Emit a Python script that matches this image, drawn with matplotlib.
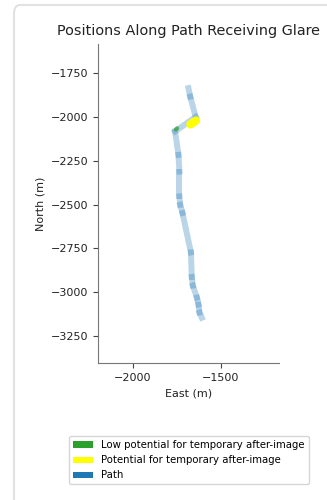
import matplotlib
matplotlib.use("Agg")
import matplotlib.pyplot as plt
from matplotlib.patches import Patch, FancyBboxPatch

# Path vertices (East, North) in metres
path_east = [-1683, -1673, -1642, -1759, -1740, -1734, -1734, -1730, -1717,
             -1669, -1664, -1658, -1635, -1626, -1620, -1607]
path_north = [-1835, -1883, -1999, -2082, -2216, -2311, -2453, -2501, -2548,
              -2773, -2913, -2962, -3031, -3071, -3116, -3146]

# Glare segments
yellow_east = [-1640, -1672]
yellow_north = [-2020, -2042]
green_east = [-1755, -1747]
green_north = [-2071, -2064]

legend_labels = ["Low potential for temporary after-image",
                 "Potential for temporary after-image",
                 "Path"]
legend_colors = ["#2ca02c", "#ffff00", "#1f77b4"]

W, H = 327, 500
fig = plt.figure(figsize=(W / 100, H / 100), dpi=100)

# container border
border = FancyBboxPatch((14 / W, -0.05), 340 / W, 0.99 + 0.05,
                        boxstyle="round,pad=0,rounding_size=0.018",
                        transform=fig.transFigure, facecolor="none",
                        edgecolor="#e2e2e2", linewidth=1.5)
fig.patches.append(border)

left, right, top, bottom = 98.3, 279.3, 43.5, 363.3
ax = fig.add_axes([left / W, 1 - bottom / H, (right - left) / W, (bottom - top) / H])

for i in range(len(path_east) - 1):
    ax.plot(path_east[i:i + 2], path_north[i:i + 2], color="#1f77b4",
            alpha=0.3, linewidth=4.3, solid_capstyle="projecting")
ax.plot(green_east, green_north, color="#2ca02c", alpha=0.7, linewidth=3,
        solid_capstyle="round")
ax.plot(yellow_east, yellow_north, color="#ffff00", linewidth=6,
        solid_capstyle="round")

ax.set_xlim(-2196, -1166)
ax.set_ylim(-3406, -1580)
ax.set_xticks([-2000, -1500])
ax.set_yticks([-1750, -2000, -2250, -2500, -2750, -3000, -3250])
ax.tick_params(labelsize=8, length=3.5, width=0.8, color="#444444", labelcolor="#222222")
for s in ["top", "right"]:
    ax.spines[s].set_visible(False)
for s in ["left", "bottom"]:
    ax.spines[s].set_color("#777777")
    ax.spines[s].set_linewidth(0.8)

ax.set_title("Positions Along Path Receiving Glare", fontsize=10.4, color="#222222")
ax.set_xlabel("East (m)", fontsize=8, color="#222222")
ax.set_ylabel("North (m)", fontsize=8, color="#222222")

handles = [Patch(facecolor=c, label=l) for c, l in zip(legend_colors, legend_labels)]
fig.legend(handles=handles, loc="center", bbox_to_anchor=(188.8 / W, 1 - 460.3 / H),
           fontsize=7.3, frameon=True, handlelength=2.0, handleheight=0.6)

fig.savefig("out.png", dpi=100)
